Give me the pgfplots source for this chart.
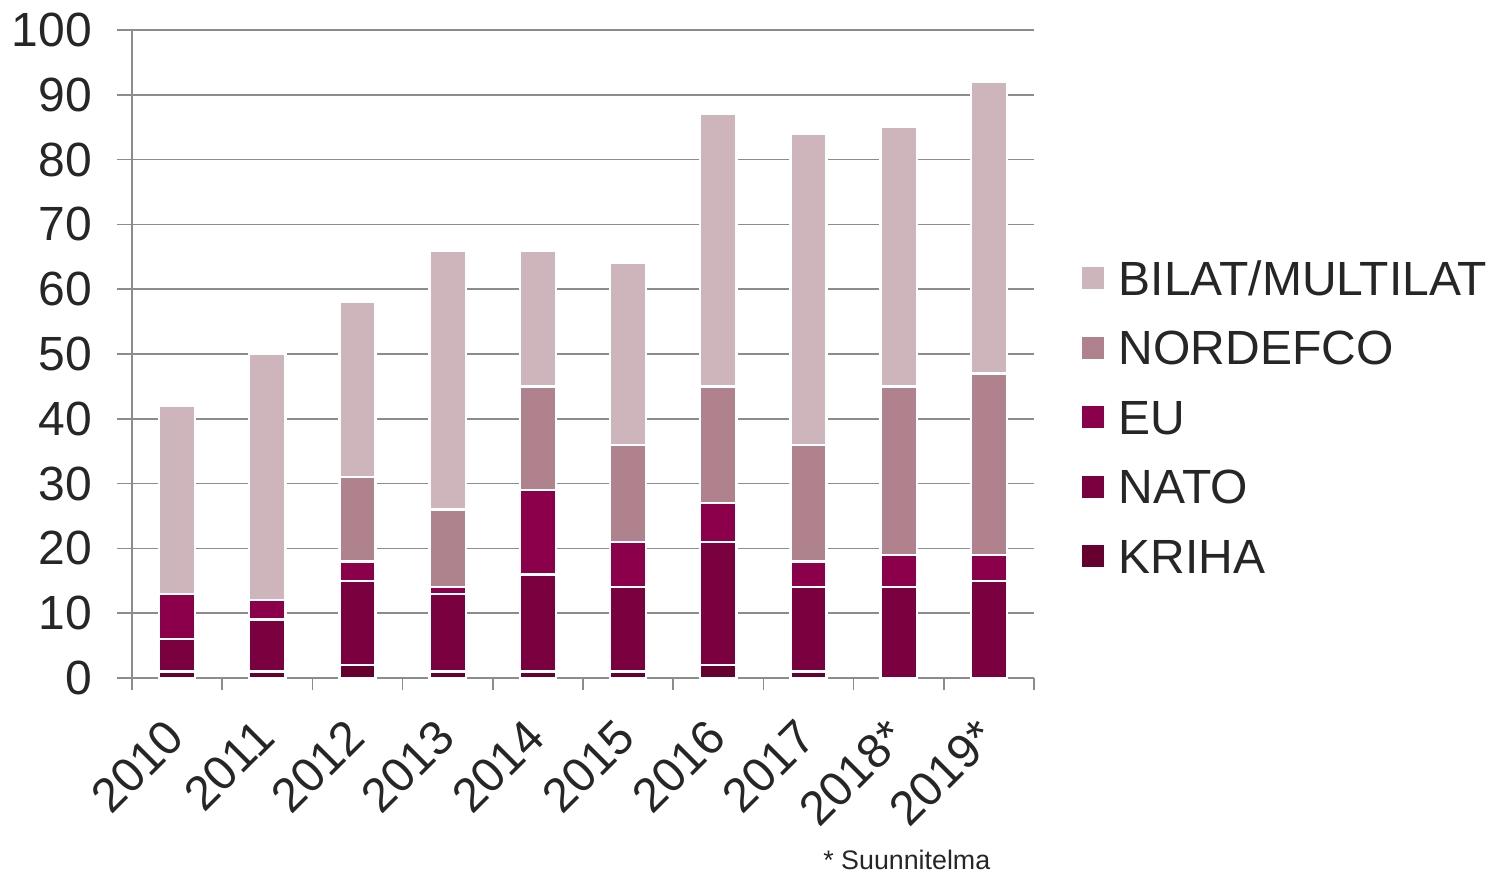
\documentclass[border=0pt]{standalone}
\usepackage{pgfplots}
\pgfplotsset{compat=1.18}
\usepackage{fontspec}
\setmainfont{Liberation Sans}
\definecolor{cBilat}{HTML}{CDB5BB}
\definecolor{cNord}{HTML}{AF828E}
\definecolor{cEU}{HTML}{8C004B}
\definecolor{cNato}{HTML}{7A003F}
\definecolor{cKriha}{HTML}{66002F}
\definecolor{cGrid}{HTML}{8C8C8C}
\definecolor{cText}{HTML}{262626}
\begin{document}
\begin{tikzpicture}
\path[use as bounding box] (-66pt,-98pt) rectangle (688pt,339pt);
\begin{axis}[
  at={(0,0)}, anchor=south west,
  scale only axis,
  width=451pt, height=324pt,
  ybar stacked,
  bar width=0.4,
  xmin=-0.5, xmax=9.5,
  ymin=0, ymax=100,
  ytick={0,10,...,100},
  xtick={0,...,9},
  xticklabels={2010,2011,2012,2013,2014,2015,2016,2017,2018*,2019*},
  minor xtick={-0.5,0.5,...,9.5},
  axis x line*=bottom,
  axis y line*=left,
  axis line style={cGrid, line width=0.8pt},
  ymajorgrids,
  grid style={cGrid, line width=0.8pt},
  tick align=outside,
  major tick length=7.5pt,
  minor tick length=6pt,
  every major x tick/.style={draw=none},
  tick style={cGrid, line width=0.8pt},
  every tick label/.append style={font=\fontsize{24}{28}\selectfont, text=cText},
  /pgf/number format/assume math mode=true,
  yticklabel style={xshift=-9pt},
  xticklabel style={xshift=-7pt, yshift=-11.5pt, rotate=45, anchor=north east, inner sep=0pt},
  reverse legend,
  legend style={
    at={(1.046,0.4025)}, anchor=west,
    draw=none, fill=none,
    font=\fontsize{24}{28}\selectfont, text=cText,
    nodes={inner sep=0pt, text height=17pt, text depth=0pt},
    column sep=7.5pt, row sep=17.75pt,
  },
  legend cell align=left,
  legend image code/.code={\fill[#1, draw=none] (0pt,-5.5pt) rectangle (11pt,5.5pt);},
  every axis plot/.append style={draw=white, line width=1.2pt},
  clip=false,
]
\addplot[fill=cKriha] coordinates {(0,1) (1,1) (2,2) (3,1) (4,1) (5,1) (6,2) (7,1) (8,0) (9,0)};
\addplot[fill=cNato] coordinates {(0,5) (1,8) (2,13) (3,12) (4,15) (5,13) (6,19) (7,13) (8,14) (9,15)};
\addplot[fill=cEU] coordinates {(0,7) (1,3) (2,3) (3,1) (4,13) (5,7) (6,6) (7,4) (8,5) (9,4)};
\addplot[fill=cNord] coordinates {(0,0) (1,0) (2,13) (3,12) (4,16) (5,15) (6,18) (7,18) (8,26) (9,28)};
\addplot[fill=cBilat] coordinates {(0,29) (1,38) (2,27) (3,40) (4,21) (5,28) (6,42) (7,48) (8,40) (9,45)};
\legend{KRIHA,NATO,EU,NORDEFCO,BILAT/MULTILAT}
\node[anchor=base, font=\fontsize{13.4}{16}\selectfont, text=cText] at (rel axis cs:0.859,-0.2948) {* Suunnitelma};
\end{axis}
\end{tikzpicture}
\end{document}
